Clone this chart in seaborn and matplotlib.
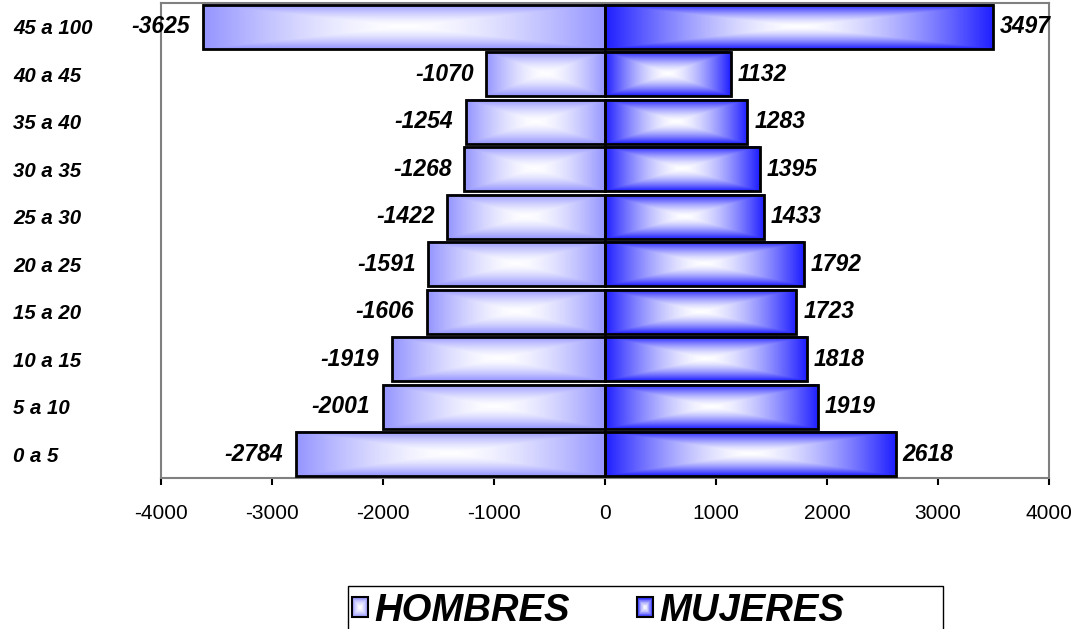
import numpy as np
import pandas as pd
import matplotlib
matplotlib.use('Agg')
import matplotlib.pyplot as plt
import matplotlib.colors as mcolors
from matplotlib.patches import Rectangle
from matplotlib.legend_handler import HandlerPatch
import seaborn as sns

# datos: grupos de edad (de abajo hacia arriba) y poblacion por sexo
edades = ['0 a 5', '5 a 10', '10 a 15', '15 a 20', '20 a 25',
          '25 a 30', '30 a 35', '35 a 40', '40 a 45', '45 a 100']
hombres = [-2784, -2001, -1919, -1606, -1591, -1422, -1268, -1254, -1070, -3625]
mujeres = [2618, 1919, 1818, 1723, 1792, 1433, 1395, 1283, 1132, 3497]
series = ['HOMBRES', 'MUJERES']
x_ticks = [-4000, -3000, -2000, -1000, 0, 1000, 2000, 3000, 4000]

col_h = '#9494FF'
col_m = '#1E1EFF'

sns.set_theme(style='white')
plt.rcParams['font.family'] = ['Liberation Sans', 'DejaVu Sans']
plt.rcParams['text.color'] = 'black'
plt.rcParams['xtick.color'] = 'black'
plt.rcParams['ytick.color'] = 'black'
plt.rcParams['axes.labelcolor'] = 'black'

df = pd.DataFrame({
    'edad': edades * 2,
    'valor': hombres + mujeres,
    'sexo': [series[0]] * len(edades) + [series[1]] * len(edades),
})

fig = plt.figure(figsize=(10.8, 6.29), dpi=100)
ax = fig.add_axes([161 / 1080, 1 - 478 / 629, 888 / 1080, 475 / 629])

sns.barplot(data=df, x='valor', y='edad', hue='sexo', orient='h',
            order=edades[::-1], hue_order=series, dodge=False, width=0.93,
            palette=[col_h, col_m], edgecolor='black', linewidth=2,
            legend=False, ax=ax)


def grad_img(color, nx=300, ny=60, p=1.5):
    # degradado rectangular desde el centro (blanco) hacia los bordes
    u = np.abs(np.linspace(-1, 1, nx))[None, :]
    v = np.abs(np.linspace(-1, 1, ny))[:, None]
    t = np.maximum(u, v) ** p
    c = np.array(mcolors.to_rgb(color))
    w = np.array([1.0, 1.0, 1.0])
    return w[None, None, :] * (1 - t[..., None]) + c[None, None, :] * t[..., None]


#fill each bar with the gradient, keep the black edge on top
for cont, col in zip(ax.containers, [col_h, col_m]):
    img = grad_img(col)
    for p in cont.patches:
        x0, y0 = p.get_x(), p.get_y()
        w, h = p.get_width(), p.get_height()
        ax.imshow(img, extent=(x0, x0 + w, y0 + h, y0), aspect='auto',
                  interpolation='bilinear', zorder=1.5)
        p.set_facecolor('none')
        p.set_zorder(2.5)

ax.set_xlim(-4000, 4000)
ax.set_ylim(9.5, -0.5)
ax.set_xticks(x_ticks)
ax.set_xticklabels([str(v) for v in x_ticks], fontsize=15)
ax.set_xlabel('')
ax.set_ylabel('')

#etiquetas de valores
lbl = dict(fmt='%d', fontsize=16.5, fontweight='bold', fontstyle='italic')
ax.bar_label(ax.containers[0], padding=9, **lbl)
ax.bar_label(ax.containers[1], padding=5, **lbl)

ax.tick_params(axis='x', direction='out', length=5, width=1.5, color='black',
               pad=14, bottom=True)
ax.tick_params(axis='y', length=0, pad=106.5)
for lab in ax.get_yticklabels():
    lab.set_horizontalalignment('left')
    lab.set_fontsize(14.7)
    lab.set_fontweight('bold')
    lab.set_fontstyle('italic')

for s in ['left', 'top', 'right', 'bottom']:
    ax.spines[s].set_color('#808080')
    ax.spines[s].set_linewidth(1.5)
    ax.spines[s].set_zorder(2)


class GradHandler(HandlerPatch):
    def __init__(self, color):
        super().__init__()
        self.color = color

    def create_artists(self, legend, orig_handle, xdescent, ydescent,
                       width, height, fontsize, trans):
        arts = []
        n = 14
        c = np.array(mcolors.to_rgb(self.color))
        for i in range(n):
            f = i / n
            ww, hh = width * (1 - f), height * (1 - f)
            x = -xdescent + (width - ww) / 2
            y = -ydescent + (height - hh) / 2
            t = (1 - f) ** 1.5
            fc = (1 - t) * np.ones(3) + t * c
            arts.append(Rectangle((x, y), ww, hh, facecolor=fc,
                                  edgecolor='none', transform=trans))
        arts.append(Rectangle((-xdescent, -ydescent), width, height,
                              facecolor='none', edgecolor='black',
                              linewidth=1.5, transform=trans))
        return arts


handles = [Rectangle((0, 0), 1, 1, color=col_h), Rectangle((0, 0), 1, 1, color=col_m)]
leg = fig.legend(handles, series, loc='center left',
                 bbox_to_anchor=(352 / 1080, 1 - 611 / 629),
                 ncol=2, frameon=False, borderpad=0, borderaxespad=0,
                 handlelength=0.42, handleheight=0.42, handletextpad=0.17,
                 columnspacing=1.75,
                 prop={'size': 27.5, 'weight': 'bold', 'style': 'italic'},
                 handler_map={handles[0]: GradHandler(col_h),
                              handles[1]: GradHandler(col_m)})

#caja de la leyenda
fig.patches.append(Rectangle((348 / 1080, -0.05), 595 / 1080, 0.05 + (629 - 586) / 629,
                             transform=fig.transFigure, facecolor='none',
                             edgecolor='black', linewidth=1))

fig.savefig('out.png', dpi=100)
